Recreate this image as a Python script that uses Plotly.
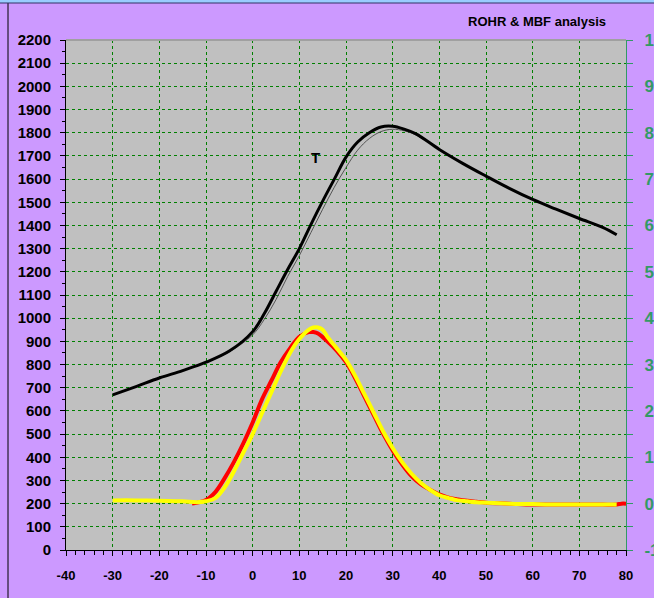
import plotly.graph_objects as go

# ---- data ----
ca_T = [-30, -25, -20, -15, -10, -5, 0, 2.5, 5, 7.5, 10, 12.5, 15, 17.5, 20, 22.5, 25, 27.5, 30,
        32.5, 35, 40, 45, 50, 55, 60, 65, 70, 75, 78]
T_thick = [669, 705, 742, 774, 810, 858, 942, 1020, 1115, 1210, 1300, 1405, 1505, 1600, 1695,
           1760, 1800, 1825, 1828, 1815, 1795, 1728, 1668, 1613, 1560, 1512, 1470, 1430, 1392, 1360]
T_thin = [669, 705, 742, 774, 810, 855, 928, 995, 1080, 1180, 1270, 1370, 1470, 1565, 1650,
          1725, 1775, 1805, 1815, 1808, 1790, 1728, 1668, 1613, 1560, 1512, 1470, 1430, 1392, 1360]

ca_red = [-13, -10, -8, -6, -4, -2, 0, 2, 4, 6, 8, 10, 12, 13, 14, 16, 18, 20, 22, 24, 26, 28, 30,
          32, 34, 36, 38, 40, 42, 44, 46, 48, 50, 55, 60, 65, 70, 75, 78, 79, 80]
rohr_red = [0.0, 0.08, 0.25, 0.55, 0.9, 1.3, 1.75, 2.25, 2.65, 3.05, 3.35, 3.6, 3.7, 3.7, 3.67, 3.5,
            3.3, 3.05, 2.7, 2.3, 1.9, 1.5, 1.15, 0.85, 0.6, 0.42, 0.3, 0.2, 0.13, 0.09, 0.06, 0.04,
            0.02, 0.0, -0.02, -0.02, -0.02, -0.02, -0.02, 0.0, 0.0]

ca_yel = [-30, -25, -20, -15, -12, -10, -8, -6, -4, -2, 0, 2, 4, 6, 8, 10, 12, 13, 14, 15, 16, 18,
          20, 22, 24, 26, 28, 30, 32, 34, 36, 38, 40, 42, 44, 46, 48, 50, 55, 60, 65, 70, 75, 78]
rohr_yel = [0.07, 0.07, 0.06, 0.05, 0.03, 0.05, 0.12, 0.35, 0.7, 1.1, 1.5, 1.95, 2.4, 2.85, 3.25,
            3.55, 3.75, 3.8, 3.8, 3.75, 3.6, 3.35, 3.1, 2.75, 2.35, 1.95, 1.55, 1.2, 0.9, 0.65,
            0.45, 0.3, 0.18, 0.12, 0.07, 0.05, 0.03, 0.02, 0.0, -0.01, -0.02, -0.02, -0.02, -0.02]

x_ticks = list(range(-40, 81, 10))
left_ticks = list(range(0, 2201, 100))
right_ticks = list(range(-1, 11))

GREEN = "#339966"
FONT = "Liberation Sans, Arial, sans-serif"

fig = go.Figure()
fig.add_trace(go.Scatter(x=ca_T, y=T_thin, mode="lines", line=dict(color="#555555", width=1, shape="spline"),
                         yaxis="y", showlegend=False, hoverinfo="skip"))
fig.add_trace(go.Scatter(x=ca_T, y=T_thick, mode="lines", line=dict(color="black", width=3, shape="spline"),
                         yaxis="y", showlegend=False))
fig.add_trace(go.Scatter(x=ca_red, y=rohr_red, mode="lines", line=dict(color="#ff0000", width=4, shape="spline"),
                         yaxis="y2", showlegend=False))
fig.add_trace(go.Scatter(x=ca_yel, y=rohr_yel, mode="lines", line=dict(color="#ffff00", width=4, shape="spline"),
                         yaxis="y2", showlegend=False))

fig.update_layout(
    width=654, height=598,
    margin=dict(l=66, r=28, t=40, b=48, autoexpand=False),
    paper_bgcolor="#cc99ff",
    plot_bgcolor="#c0c0c0",
    font=dict(family=FONT, color="black"),
    xaxis=dict(range=[-40, 80], tickvals=x_ticks, ticktext=[str(v) for v in x_ticks],
               automargin=False,
               showgrid=True, gridcolor="#008000", griddash="3px,3px", gridwidth=1,
               zeroline=False, showline=True, linecolor="black", linewidth=1,
               ticks="outside", ticklen=5, tickcolor="black", ticklabelstandoff=8,
               minor=dict(dtick=2, ticks="outside", ticklen=4, tickcolor="black", showgrid=False),
               tickfont=dict(size=13, family=FONT, color="black", weight="bold")),
    yaxis=dict(range=[0, 2200], tickvals=left_ticks, ticktext=[str(v) for v in left_ticks],
               automargin=False,
               showgrid=True, gridcolor="#008000", griddash="3px,3px", gridwidth=1,
               zeroline=False, showline=True, linecolor="black", linewidth=1,
               ticks="outside", ticklen=5, tickcolor="black", ticklabelstandoff=6,
               minor=dict(dtick=50, ticks="outside", ticklen=3, tickcolor="black", showgrid=False),
               tickfont=dict(size=15, family=FONT, color="black", weight="bold")),
    yaxis2=dict(range=[-1, 10], tickvals=right_ticks, ticktext=[str(v) for v in right_ticks],
                automargin=False,
                overlaying="y", side="right", showgrid=False, zeroline=False,
                showline=True, linecolor=GREEN, linewidth=1,
                ticks="outside", ticklen=6, tickcolor=GREEN, ticklabelstandoff=8,
                minor=dict(dtick=0.5, ticks="outside", ticklen=6, tickcolor=GREEN),
                tickfont=dict(size=17, family=FONT, color=GREEN, weight="bold")),
    annotations=[
        dict(text="ROHR & MBF analysis", xref="paper", yref="paper", x=(608 - 66) / 560, y=(550 - 22) / 510,
             xanchor="right", yanchor="middle", showarrow=False,
             font=dict(size=13, family=FONT, color="black", weight="bold")),
        dict(text="T", xref="x", yref="y", x=13.4, y=1695, showarrow=False,
             font=dict(size=15, family=FONT, color="black", weight="bold")),
    ],
    shapes=[
        dict(type="line", xref="paper", yref="paper", x0=0, x1=1, y0=1, y1=1,
             line=dict(color="#a0a0a0", width=2)),
        dict(type="line", xref="paper", yref="paper", x0=(8 - 66) / 560, x1=(8 - 66) / 560,
             y0=(550 - 598) / 510, y1=(550 - 3) / 510, line=dict(color="black", width=1)),
        dict(type="rect", xref="paper", yref="paper", x0=(0 - 66) / 560, x1=(654 - 66) / 560,
             y0=(550 - 3) / 510, y1=(550 - 0) / 510, fillcolor="#99ccff", line=dict(width=0)),
        dict(type="line", xref="paper", yref="paper", x0=(0 - 66) / 560, x1=(654 - 66) / 560,
             y0=(550 - 3) / 510, y1=(550 - 3) / 510, line=dict(color="#333366", width=1)),
    ],
)

fig.write_html("out.html")
